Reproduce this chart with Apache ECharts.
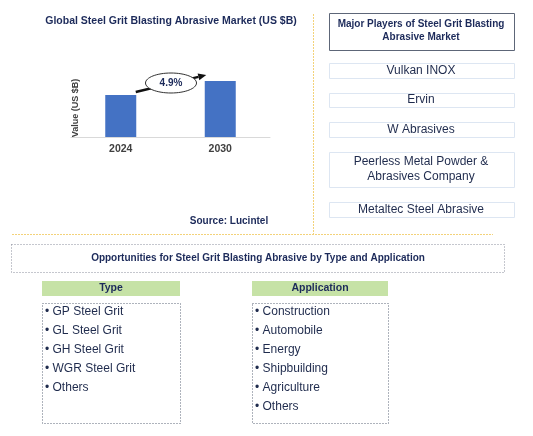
<!DOCTYPE html>
<html><head><meta charset="utf-8">
<script src="https://cdn.jsdelivr.net/npm/echarts@6/dist/echarts.min.js"></script>
<style>html,body{margin:0;padding:0;background:#fff}#c{width:533px;height:436px}</style>
</head><body><div id="c"></div>
<script>
const years = ['2024', '2030'];
const values = [0.42, 0.56];
const cagrLabel = '4.9%';
const chartTitle = 'Global Steel Grit Blasting Abrasive Market (US $B)';
const yAxisName = 'Value (US $B)';
const sourceText = 'Source: Lucintel';
const playersTitle = ['Major Players of Steel Grit Blasting', 'Abrasive Market'];
const players = [['Vulkan INOX'], ['Ervin'], ['W Abrasives'], ['Peerless Metal Powder &', 'Abrasives Company'], ['Metaltec Steel Abrasive']];
const oppTitle = 'Opportunities for Steel Grit Blasting Abrasive by Type and Application';
const typeHeader = 'Type';
const typeItems = ['GP Steel Grit', 'GL Steel Grit', 'GH Steel Grit', 'WGR Steel Grit', 'Others'];
const appHeader = 'Application';
const appItems = ['Construction', 'Automobile', 'Energy', 'Shipbuilding', 'Agriculture', 'Others'];

const FONT = 'Liberation Sans, Arial, sans-serif';
const NAVY = '#1c2a5a';
const TXT = '#1f2b4d';
const chart = echarts.init(document.getElementById('c'), null, {renderer: 'canvas'});

function baseGraphics() {
  const g = [];
  g.push({type: 'line', shape: {x1: 313.5, y1: 14, x2: 313.5, y2: 234}, style: {stroke: '#f3d27a', lineWidth: 1, lineDash: [2, 1]}, z: 1});
  g.push({type: 'line', shape: {x1: 12, y1: 234.5, x2: 493, y2: 234.5}, style: {stroke: '#f3d27a', lineWidth: 1, lineDash: [2, 1]}, z: 1});
  g.push({type: 'text', x: 171, y: 21, style: {text: chartTitle, font: 'bold 10.5px ' + FONT, fill: NAVY, align: 'center', verticalAlign: 'middle'}});
  g.push({type: 'text', x: 76, y: 108, rotation: Math.PI / 2, style: {text: yAxisName, font: 'bold 9px ' + FONT, fill: '#404040', align: 'center', verticalAlign: 'middle'}});
  g.push({type: 'text', x: 229, y: 221, style: {text: sourceText, font: 'bold 10px ' + FONT, fill: NAVY, align: 'center', verticalAlign: 'middle'}});
  g.push({type: 'rect', shape: {x: 329.5, y: 13.5, width: 185, height: 37}, style: {fill: '#fff', stroke: '#5d6678', lineWidth: 1}});
  g.push({type: 'text', x: 421, y: 24.5, style: {text: playersTitle[0], font: 'bold 10px ' + FONT, fill: NAVY, align: 'center', verticalAlign: 'middle'}});
  g.push({type: 'text', x: 421, y: 37.5, style: {text: playersTitle[1], font: 'bold 10px ' + FONT, fill: NAVY, align: 'center', verticalAlign: 'middle'}});
  const boxes = [[63, 78], [93, 107], [122, 137], [152, 187], [202, 217]];
  players.forEach((p, i) => {
    const [t, b] = boxes[i];
    g.push({type: 'rect', shape: {x: 329.5, y: t + 0.5, width: 185, height: b - t}, style: {fill: '#fff', stroke: '#dde6f2', lineWidth: 1}});
    const mid = (t + b) / 2;
    p.forEach((line, j) => {
      const y = p.length === 1 ? mid : mid + (j - 0.5) * 15;
      g.push({type: 'text', x: 421, y: y, style: {text: line, font: '12px ' + FONT, fill: TXT, align: 'center', verticalAlign: 'middle'}});
    });
  });
  g.push({type: 'rect', shape: {x: 11.5, y: 244.5, width: 493, height: 28}, style: {fill: '#fff', stroke: '#8a8f9c', lineWidth: 1, lineDash: [1, 2]}});
  g.push({type: 'text', x: 258, y: 258, style: {text: oppTitle, font: 'bold 10px ' + FONT, fill: NAVY, align: 'center', verticalAlign: 'middle'}});
  const cols = [[42, 180, typeHeader, typeItems], [252, 388, appHeader, appItems]];
  cols.forEach(([x1, x2, head, items]) => {
    g.push({type: 'rect', shape: {x: x1, y: 281, width: x2 - x1, height: 15}, style: {fill: '#c6e2a6'}});
    g.push({type: 'text', x: (x1 + x2) / 2, y: 288.5, style: {text: head, font: 'bold 10.5px ' + FONT, fill: NAVY, align: 'center', verticalAlign: 'middle'}});
    g.push({type: 'rect', shape: {x: x1 + 0.5, y: 303.5, width: x2 - x1, height: 120}, style: {fill: '#fff', stroke: '#5d6678', lineWidth: 1, lineDash: [1, 2]}});
    items.forEach((it, i) => {
      g.push({type: 'text', x: x1 + 3, y: 312 + i * 19, style: {text: '\u2022 ' + it, font: '12px ' + FONT, fill: TXT, align: 'left', verticalAlign: 'middle'}});
    });
  });
  return g;
}

const option = {
  animation: false,
  backgroundColor: '#fff',
  grid: {left: 71, right: 263, top: 67, bottom: 299},
  xAxis: {
    type: 'category', data: years,
    axisLine: {lineStyle: {color: '#d9d9d9', width: 1}},
    axisTick: {show: false},
    axisLabel: {color: '#404040', fontWeight: 'bold', fontSize: 10.5, fontFamily: FONT, margin: 7}
  },
  yAxis: {type: 'value', min: 0, max: 0.7, show: false, splitLine: {show: false}},
  series: [{type: 'bar', data: values, barWidth: 31, itemStyle: {color: '#4472c4'}, z: 2}],
  graphic: baseGraphics()
};
chart.setOption(option);

const p1 = chart.convertToPixel({seriesIndex: 0}, [0, values[0]]);
const p2 = chart.convertToPixel({seriesIndex: 0}, [1, values[1]]);
const sx = p1[0] + 15, sy = p1[1] - 3;
const ex = p2[0] - 14, ey = p2[1] - 6;
const ang = Math.atan2(ey - sy, ex - sx);
const hl = 8, hw = 3.5;
const bx = ex - hl * Math.cos(ang), by = ey - hl * Math.sin(ang);
const nx = -Math.sin(ang), ny = Math.cos(ang);
const cx = (sx + ex) / 2, cy = (sy + ey) / 2 - 0.5;
const extra = [
  {type: 'line', shape: {x1: sx, y1: sy, x2: bx, y2: by}, style: {stroke: '#111', lineWidth: 2.5}, z: 10},
  {type: 'polygon', shape: {points: [[ex, ey], [bx + nx * hw, by + ny * hw], [bx - nx * hw, by - ny * hw]]}, style: {fill: '#111'}, z: 10},
  {type: 'ellipse', shape: {cx: cx, cy: cy, rx: 25.5, ry: 10}, style: {fill: '#fff', stroke: '#333', lineWidth: 1}, z: 11},
  {type: 'text', x: cx, y: cy, style: {text: cagrLabel, font: 'bold 10px ' + FONT, fill: NAVY, align: 'center', verticalAlign: 'middle'}, z: 12}
];
chart.setOption({graphic: baseGraphics().concat(extra)}, {replaceMerge: ['graphic']});
</script></body></html>
